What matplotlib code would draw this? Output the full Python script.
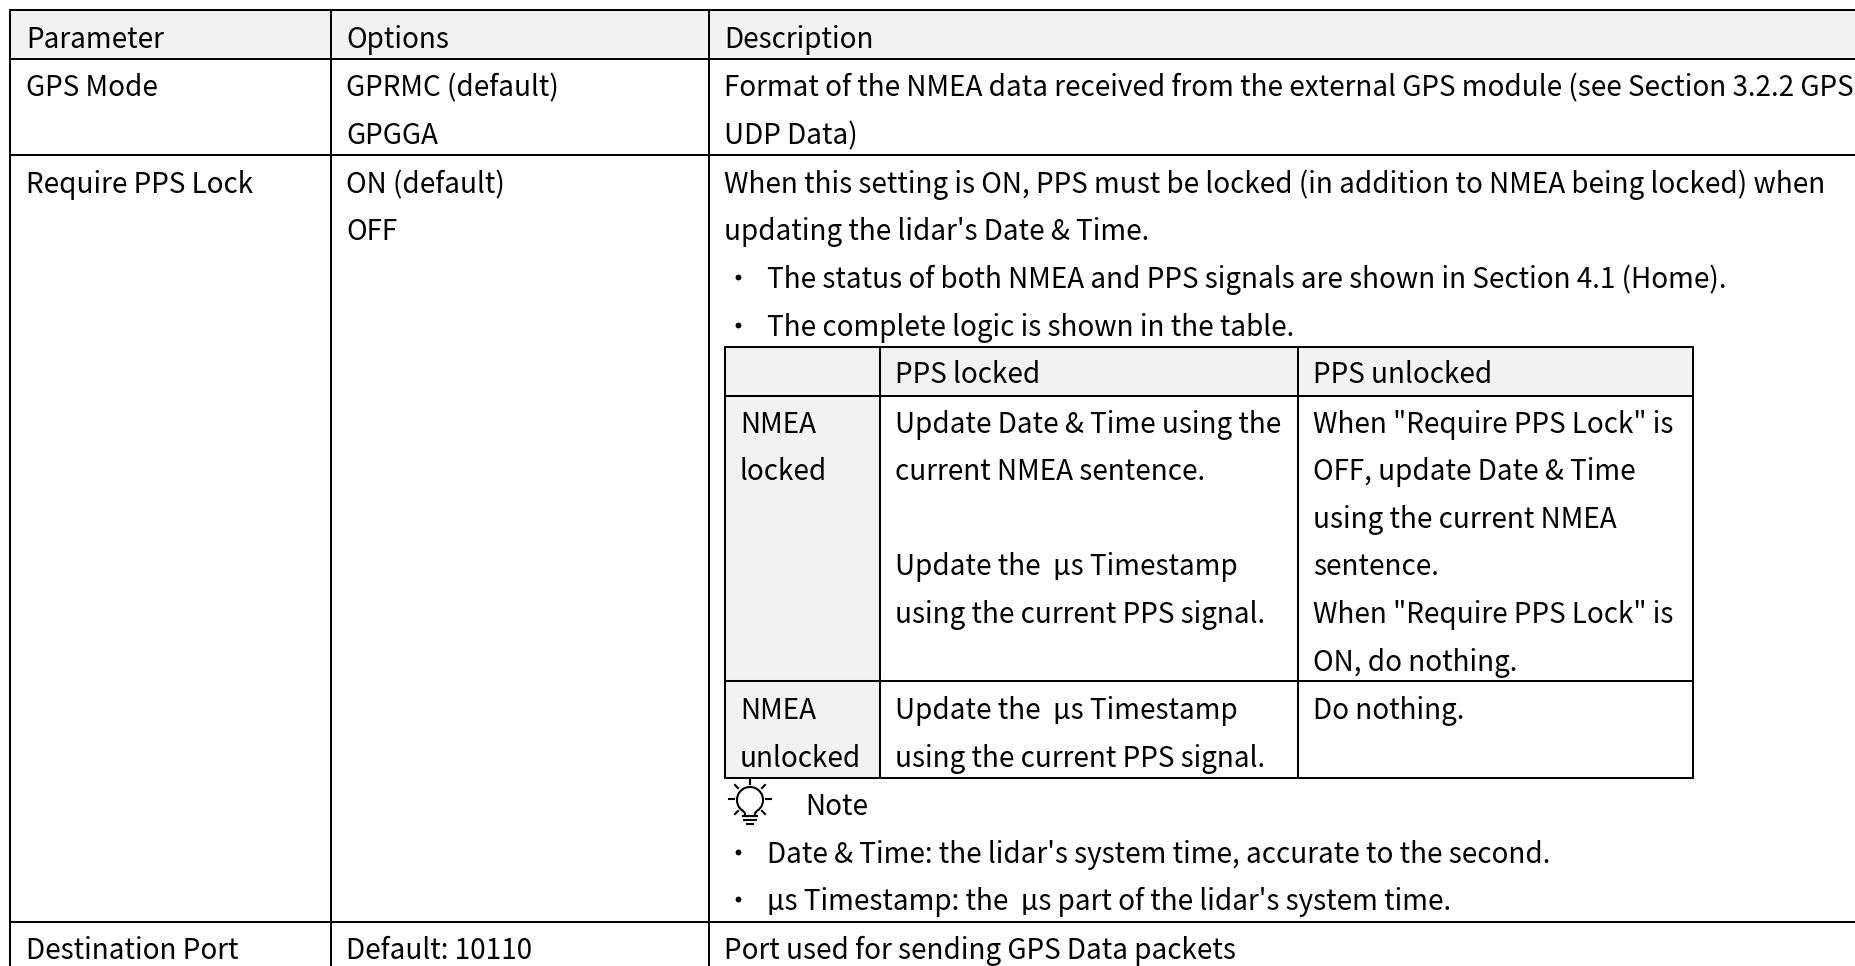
import matplotlib
matplotlib.use('Agg')
import matplotlib.pyplot as plt
from matplotlib.patches import Arc, Rectangle

plt.rcParams['font.family'] = ['Noto Sans CJK SC', 'DejaVu Sans']

# table text
header = ['Parameter', 'Options', 'Description']
parameters = ['GPS Mode', 'Require PPS Lock', 'Destination Port']
options_gps = ['GPRMC (default)', 'GPGGA']
options_pps = ['ON (default)', 'OFF']
options_port = ['Default: 10110']
desc_gps = ['Format of the NMEA data received from the external GPS module (see Section 3.2.2 GPS', 'UDP Data)']
desc_pps = ['When this setting is ON, PPS must be locked (in addition to NMEA being locked) when',
            "updating the lidar's Date & Time."]
bullets_top = ['The status of both NMEA and PPS signals are shown in Section 4.1 (Home).',
               'The complete logic is shown in the table.']
note_label = 'Note'
bullets_note = ["Date & Time: the lidar's system time, accurate to the second.",
                "µs Timestamp: the  µs part of the lidar's system time."]
desc_port = ['Port used for sending GPS Data packets']

inner_header = ['PPS locked', 'PPS unlocked']
inner_rows = ['NMEA', 'locked']
inner_rows2 = ['NMEA', 'unlocked']
cell_ll = ['Update Date & Time using the', 'current NMEA sentence.', '',
           'Update the  µs Timestamp', 'using the current PPS signal.']
cell_lu = ['When "Require PPS Lock" is', 'OFF, update Date & Time', 'using the current NMEA',
           'sentence.', 'When "Require PPS Lock" is', 'ON, do nothing.']
cell_ul = ['Update the  µs Timestamp', 'using the current PPS signal.']
cell_uu = ['Do nothing.']

W, H = 1856, 966
FS = 20.05
GREY = '#f2f2f2'
LW = 1.45

fig = plt.figure(figsize=(W/100, H/100), dpi=100)
ax = fig.add_axes([0, 0, 1, 1])
ax.set_xlim(0, W)
ax.set_ylim(H, 0)
ax.axis('off')


def put(x, y, s):
    ax.text(x, y+1.2, s, fontsize=FS, color='#000000', va='baseline', ha='left')


def block(x, ys, lines):
    for y, s in zip(ys, lines):
        if s:
            put(x, y, s)


def bullets(ys, lines):
    for y, s in zip(ys, lines):
        ax.plot([738], [y-10], 'o', ms=4.2, color='black', mew=0)
        put(767, y, s)


# fills
ax.add_patch(Rectangle((10, 10), W-10, 49, fc=GREY, ec='none', zorder=0))
ax.add_patch(Rectangle((725, 347), 968, 49, fc=GREY, ec='none', zorder=0))
ax.add_patch(Rectangle((725, 396), 155, 382, fc=GREY, ec='none', zorder=0))

# outer rules
for y in [10, 59, 155, 922]:
    ax.plot([9, W], [y, y], color='black', lw=LW, solid_capstyle='butt')
for x in [10, 331.5, 709.5]:
    ax.plot([x, x], [10, H], color='black', lw=LW, solid_capstyle='butt')

# inner table rules
for y in [347, 396, 681, 778]:
    ax.plot([725, 1693], [y, y], color='black', lw=LW, solid_capstyle='projecting')
for x in [725, 880.5, 1298, 1693]:
    ax.plot([x, x], [347, 778], color='black', lw=LW, solid_capstyle='butt')

# outer table text
put(26, 47, header[0]); put(346, 47, header[1]); put(724, 47, header[2])
put(26, 95, parameters[0]); put(26, 192, parameters[1]); put(26, 958, parameters[2])
block(346, [95, 143], options_gps)
block(346, [192, 239], options_pps)
block(346, [958], options_port)
block(724, [95, 143], desc_gps)
block(724, [192, 239], desc_pps)
bullets([287, 335], bullets_top)
bullets([862, 909], bullets_note)
block(724, [958], desc_port)

# inner table text
put(895, 382, inner_header[0]); put(1313, 382, inner_header[1])
block(740, [432, 479], inner_rows)
block(740, [718, 766], inner_rows2)
block(895, [432, 479, 527, 574, 622], cell_ll)
block(1313, [432, 479, 527, 574, 622, 670], cell_lu)
block(895, [718, 766], cell_ul)
block(1313, [718], cell_uu)

# lightbulb icon
cx, cy = 750, 800
ax.add_patch(Arc((cx, cy), 26, 26, theta1=125, theta2=55, color='black', lw=1.5))
ax.plot([cx-7.5, cx-5, cx-5], [cy+10.5, cy+13, cy+15], color='black', lw=1.5)
ax.plot([cx+7.5, cx+5, cx+5], [cy+10.5, cy+13, cy+15], color='black', lw=1.5)
ax.plot([cx-7, cx+7], [cy+16, cy+16], color='black', lw=1.6)
ax.plot([cx-6, cx+6], [cy+20, cy+20], color='black', lw=1.5)
ax.plot([cx-3, cx+3], [cy+23.5, cy+23.5], color='black', lw=1.5)
for x0, y0, x1, y1 in [(0, -21, 0, -16), (-15, -15, -12, -12), (15, -15, 12, -12),
                       (-21, -1, -16, -1), (21, -1, 16, -1),
                       (-15, 14, -12, 11), (15, 14, 12, 11)]:
    ax.plot([cx+x0, cx+x1], [cy+y0, cy+y1], color='black', lw=1.5)
put(805, 814, note_label)

fig.savefig('out.png', dpi=100)
